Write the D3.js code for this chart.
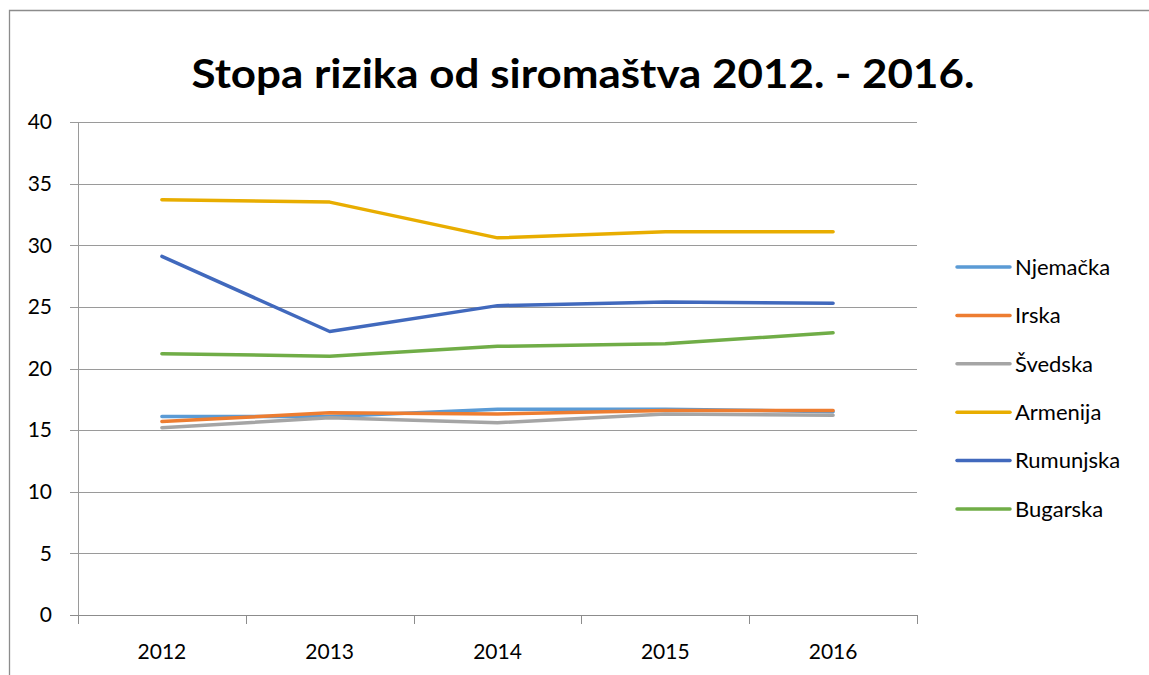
<!DOCTYPE html>
<html>
<head>
<meta charset="utf-8">
<script src="https://cdn.jsdelivr.net/npm/d3@7"></script>
<style>
  body { margin: 0; background: #fff; }
  text { font-family: Lato, "Open Sans", sans-serif; }
</style>
</head>
<body>
<div id="chart"></div>
<script>
// --------------------------------------
//  Data
// --------------------------------------

const years = ["2012", "2013", "2014", "2015", "2016"];
const countries = ["Njemačka", "Irska", "Švedska", "Armenija", "Rumunjska", "Bugarska"];
const colors = ["#5b9bd5", "#ed7d31", "#a5a5a5", "#e8ad00", "#4169bd", "#70ad47"];

const njemacka  = [16.1, 16.1, 16.7, 16.7, 16.5];
const irska     = [15.7, 16.4, 16.3, 16.6, 16.6];
const svedska   = [15.2, 16.0, 15.6, 16.3, 16.2];
const armenija  = [33.7, 33.5, 30.6, 31.1, 31.1];
const rumunjska = [29.1, 23.0, 25.1, 25.4, 25.3];
const bugarska  = [21.2, 21.0, 21.8, 22.0, 22.9];

const yTicks = [0, 5, 10, 15, 20, 25, 30, 35, 40];
const titleText = "Stopa rizika od siromaštva 2012. - 2016.";

const series = [njemacka, irska, svedska, armenija, rumunjska, bugarska]
  .map((v, i) => ({ name: countries[i], color: colors[i], values: v }));

// --------------------------------------
//  Canvas
// --------------------------------------

const width = 1149, height = 675;
const margin = { top: 122, right: 232, bottom: 60, left: 78 };
const innerwidth = 917 - margin.left;
const innerheight = 615 - margin.top;

const svg = d3.select("#chart")
  .append("svg")
    .attr("width", width)
    .attr("height", height);

// chart border (cut off on right and bottom)
svg.append("path")
    .attr("d", `M9.5,${height} V10.5 H${width}`)
    .attr("fill", "none")
    .attr("stroke", "#8c8c8c")
    .attr("stroke-width", 1.3);

svg.append("text")
    .attr("x", 583)
    .attr("y", 88)
    .attr("text-anchor", "middle")
    .style("font-size", "41px")
    .style("font-weight", "bold")
    .attr("fill", "#000")
    .attr("textLength", 783)
    .attr("lengthAdjust", "spacingAndGlyphs")
    .text(titleText);

const inner = svg.append("g")
    .attr("transform", `translate(${margin.left}, ${margin.top})`);

// --------------------------------------
//  Scales
// --------------------------------------

const x = d3.scaleBand()
    .domain(years)
    .range([0, innerwidth]);

const y = d3.scaleLinear()
    .domain([0, 40])
    .range([innerheight, 0]);

// --------------------------------------
//  Axes
// --------------------------------------

inner.append("g")
    .selectAll("line")
    .data(yTicks)
    .join("line")
    .attr("x1", -8)
    .attr("x2", innerwidth)
    .attr("y1", d => Math.round(y(d)) + 0.5)
    .attr("y2", d => Math.round(y(d)) + 0.5)
    .attr("stroke", d => d === 0 ? "#8c8c8c" : "#9a9a9a")
    .attr("stroke-width", 1);

inner.append("line")
    .attr("x1", 0.5).attr("x2", 0.5)
    .attr("y1", 0).attr("y2", innerheight)
    .attr("stroke", "#9a9a9a");

inner.append("g")
    .selectAll("text")
    .data(yTicks)
    .join("text")
    .attr("x", -26)
    .attr("y", d => y(d))
    .attr("dy", "0.35em")
    .attr("text-anchor", "end")
    .style("font-size", "21px")
    .attr("fill", "#000")
    .text(d => d);

const bounds = years.map(d => x(d)).concat([innerwidth]);
inner.append("g")
    .selectAll("line")
    .data(bounds)
    .join("line")
    .attr("x1", d => Math.round(d) + 0.5)
    .attr("x2", d => Math.round(d) + 0.5)
    .attr("y1", innerheight)
    .attr("y2", innerheight + 9)
    .attr("stroke", "#8c8c8c");

inner.append("g")
    .selectAll("text")
    .data(years)
    .join("text")
    .attr("x", d => x(d) + x.bandwidth() / 2)
    .attr("y", innerheight + 44)
    .attr("text-anchor", "middle")
    .style("font-size", "21px")
    .attr("fill", "#000")
    .text(d => d);

// --------------------------------------
//  Lines
// --------------------------------------

const line = d3.line()
    .x((d, i) => x(years[i]) + x.bandwidth() / 2)
    .y(d => y(d));

inner.selectAll(".series")
    .data(series)
    .join("path")
    .attr("class", "series")
    .attr("d", d => line(d.values))
    .attr("fill", "none")
    .attr("stroke", d => d.color)
    .attr("stroke-width", 3.5)
    .attr("stroke-linejoin", "round")
    .attr("stroke-linecap", "round");

// --------------------------------------
//  Legend
// --------------------------------------

const legend = svg.append("g")
    .selectAll("g")
    .data(series)
    .join("g")
    .attr("transform", (d, i) => `translate(957, ${267 + i * 48.4})`);

legend.append("line")
    .attr("x1", 0).attr("x2", 53)
    .attr("stroke", d => d.color)
    .attr("stroke-width", 3.5)
    .attr("stroke-linecap", "round");

legend.append("text")
    .attr("x", 58)
    .attr("dy", "0.35em")
    .style("font-size", "22px")
    .attr("fill", "#000")
    .text(d => d.name);
</script>
</body>
</html>
